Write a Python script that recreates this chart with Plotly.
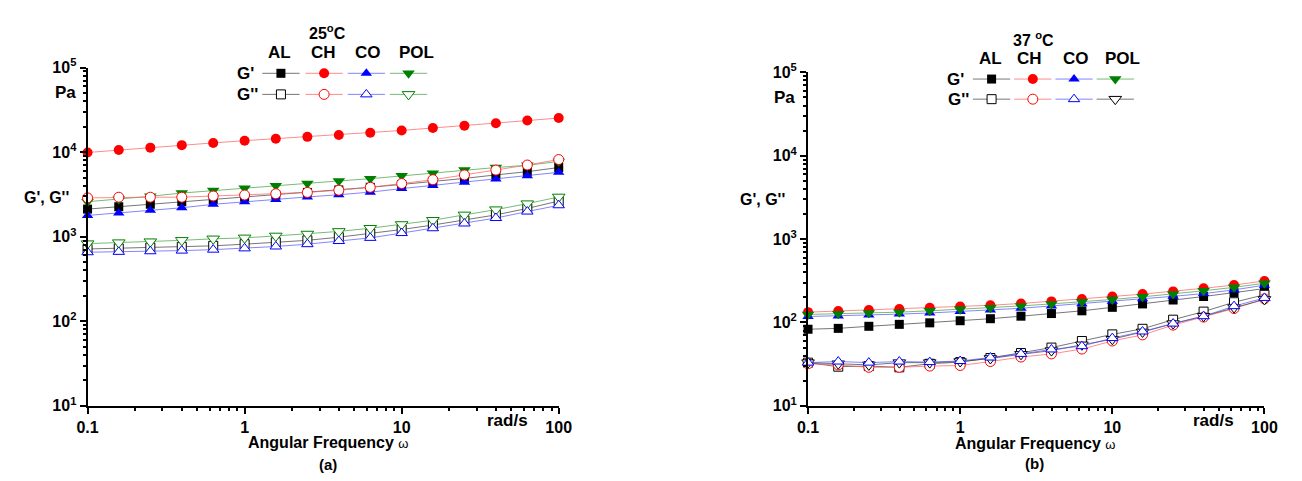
import plotly.graph_objects as go

# ---------------- data ----------------
omega = [0.1, 0.158, 0.251, 0.398, 0.631, 1, 1.58, 2.51, 3.98, 6.31, 10, 15.8, 25.1, 39.8, 63.1, 100]

materials = ["AL", "CH", "CO", "POL"]

# 25 °C
AL_Gp_25 = [2120, 2260, 2420, 2590, 2750, 2930, 3110, 3340, 3570, 3840, 4150, 4480, 4890, 5380, 5870, 6580]
AL_Gpp_25 = [716, 728, 747, 760, 780, 816, 859, 906, 987, 1087, 1216, 1374, 1566, 1812, 2159, 2641]
CH_Gp_25 = [9900, 10600, 11300, 12100, 12850, 13650, 14400, 15150, 15950, 16950, 18050, 19300, 20500, 22000, 23600, 25300]
CH_Gpp_25 = [2880, 2930, 2930, 2930, 3030, 3110, 3220, 3340, 3545, 3835, 4255, 4720, 5380, 6130, 7040, 8170]
CO_Gp_25 = [1785, 1910, 2050, 2198, 2415, 2592, 2753, 2952, 3135, 3365, 3705, 4040, 4403, 4808, 5244, 5773]
CO_Gpp_25 = [655, 662, 673, 685, 703, 728, 766, 816, 889, 969, 1104, 1259, 1433, 1663, 1982, 2354]
POL_Gp_25 = [2592, 2782, 3008, 3280, 3517, 3735, 4009, 4255, 4564, 4850, 5244, 5625, 6134, 6577, 6985, 7755]
POL_Gpp_25 = [828, 851, 873, 906, 944, 969, 1021, 1076, 1155, 1259, 1396, 1566, 1812, 2088, 2459, 2952]

# 37 °C
AL_Gp_37 = [83, 85, 90, 95, 99, 105, 111, 119, 128, 138, 152, 167, 186, 205, 228, 255]
AL_Gpp_37 = [33, 29.5, 30, 29, 32, 33.5, 37.5, 43, 50, 60, 72, 84, 108, 135, 175, 215]
CH_Gp_37 = [133, 137, 141, 145, 150, 155, 161, 169, 179, 191, 205, 219, 236, 257, 281, 315]
CH_Gpp_37 = [32, 31, 29, 29, 30, 30.5, 34, 38.5, 42, 48, 60, 71, 93, 116, 147, 192]
CO_Gp_37 = [118, 120, 123, 126, 130, 135, 141, 148, 158, 168, 180, 192, 206, 222, 246, 280]
CO_Gpp_37 = [33, 34, 33, 34, 33.5, 34.5, 38, 42, 47.5, 52, 65, 78, 97, 119, 157, 197]
POL_Gp_37 = [125, 127, 130, 133, 138, 144, 150, 158, 167, 177, 189, 203, 219, 240, 264, 295]
POL_Gpp_37 = [33, 32, 31, 33, 33, 34, 37, 41.5, 46, 54, 63, 77, 97, 119, 151, 189]

x_tickvals = [0.1, 1, 10, 100]
x_ticktext = ["0.1", "1", "10", "100"]
y_tickvals = [10, 100, 1000, 10000, 100000]
y_ticktext = ["10<sup>1</sup>", "10<sup>2</sup>", "10<sup>3</sup>", "10<sup>4</sup>", "10<sup>5</sup>"]

# ---------------- styles ----------------
W, H = 1302, 481
FONT = "Liberation Sans, Arial, sans-serif"

marker_color = {"AL": "#000000", "CH": "#ff0000", "CO": "#0000ff", "POL": "#008000"}
line_color = {"AL": "rgba(60,60,60,0.7)", "CH": "rgba(255,90,90,0.7)",
              "CO": "rgba(80,80,255,0.7)", "POL": "rgba(60,160,60,0.7)"}
sym_fill = {"AL": "square", "CH": "circle", "CO": "triangle-up", "POL": "triangle-down"}
msize = {"AL": 9, "CH": 10, "CO": 10, "POL": 11}

def px_x(p):
    return p / W

def px_y(p):
    return 1 - p / H

fig = go.Figure()

def add_series(xa, ya, mat, y, filled, mcol=None, lcol=None):
    mc = mcol or marker_color[mat]
    lc = lcol or line_color[mat]
    if filled:
        marker = dict(symbol=sym_fill[mat], size=msize[mat], color=mc, line=dict(width=0))
    else:
        marker = dict(symbol=sym_fill[mat], size=msize[mat], color="white", line=dict(width=1, color=mc))
    fig.add_trace(go.Scatter(x=omega, y=y, mode="lines+markers", xaxis=xa, yaxis=ya,
                             line=dict(color=lc, width=1), marker=marker,
                             cliponaxis=False, showlegend=False, hoverinfo="skip"))

# Left panel
left = {"AL": (AL_Gp_25, AL_Gpp_25), "CH": (CH_Gp_25, CH_Gpp_25),
        "CO": (CO_Gp_25, CO_Gpp_25), "POL": (POL_Gp_25, POL_Gpp_25)}
for m in ["AL", "CH", "CO", "POL"]:
    add_series("x", "y", m, left[m][0], True)
for m in ["AL", "CH", "POL", "CO"]:
    add_series("x", "y", m, left[m][1], False)

# Right panel
right = {"AL": (AL_Gp_37, AL_Gpp_37), "CH": (CH_Gp_37, CH_Gpp_37),
         "CO": (CO_Gp_37, CO_Gpp_37), "POL": (POL_Gp_37, POL_Gpp_37)}
for m in ["AL", "CH", "CO", "POL"]:
    add_series("x2", "y2", m, right[m][0], True)
for m in ["AL", "CH", "POL", "CO"]:
    if m == "POL":
        add_series("x2", "y2", m, right[m][1], False, mcol="#000000", lcol=line_color["AL"])
    else:
        add_series("x2", "y2", m, right[m][1], False)

# ---------------- legend blocks (overlay pixel axis) ----------------
def legend_block(cols_x, row_y, half, right_panel):
    for i, m in enumerate(materials):
        cx = cols_x[i]
        for r, filled in enumerate([True, False]):
            yy = row_y[r]
            mc = marker_color[m]
            lc = line_color[m]
            if right_panel and m == "POL" and not filled:
                mc = "#000000"
                lc = line_color["AL"]
            fig.add_trace(go.Scatter(x=[cx - half, cx + half], y=[yy, yy], mode="lines",
                                     xaxis="x3", yaxis="y3", line=dict(color=lc, width=1),
                                     showlegend=False, hoverinfo="skip"))
            if filled:
                mk = dict(symbol=sym_fill[m], size=msize[m], color=mc, line=dict(width=0))
            else:
                mk = dict(symbol=sym_fill[m], size=msize[m], color="white", line=dict(width=1, color=mc))
            fig.add_trace(go.Scatter(x=[cx], y=[yy], mode="markers", xaxis="x3", yaxis="y3",
                                     marker=mk, showlegend=False, hoverinfo="skip"))

legend_block([275, 319, 362, 405], [65, 87], 19, False)
legend_block([999, 1041, 1083, 1125], [71, 92], 19, True)

# ---------------- axes ----------------
minor_vals = [k * 10 ** e for e in range(-1, 5) for k in range(2, 10)]

def axis_common():
    return dict(type="log", showline=True, linewidth=2, linecolor="black", mirror=False,
                ticks="outside", ticklen=6, tickwidth=2, tickcolor="black",
                showgrid=False, zeroline=False,
                tickfont=dict(family=FONT, size=16, color="black", weight="bold"),
                minor=dict(ticks="outside", ticklen=3, tickwidth=1.5, tickcolor="black",
                           tickvals=minor_vals, showgrid=False))

xa = axis_common(); xa.update(range=[-1, 2], tickvals=x_tickvals, ticktext=x_ticktext,
                              domain=[px_x(78), px_x(558)], anchor="y")
ya = axis_common(); ya.update(range=[1, 5], tickvals=y_tickvals, ticktext=y_ticktext,
                              domain=[px_y(412), px_y(59)], anchor="x")
xb = axis_common(); xb.update(range=[-1, 2], tickvals=x_tickvals, ticktext=x_ticktext,
                              domain=[px_x(812), px_x(1277)], anchor="y2")
yb = axis_common(); yb.update(range=[1, 5], tickvals=y_tickvals, ticktext=y_ticktext,
                              domain=[px_y(412), px_y(64)], anchor="x2")

fig.update_layout(
    width=W, height=H, margin=dict(l=0, r=0, t=0, b=0),
    paper_bgcolor="white", plot_bgcolor="rgba(0,0,0,0)",
    xaxis=xa, yaxis=ya, xaxis2=xb, yaxis2=yb,
    xaxis3=dict(domain=[0, 1], range=[0, W], visible=False, anchor="y3", fixedrange=True),
    yaxis3=dict(domain=[0, 1], range=[H, 0], visible=False, anchor="x3", fixedrange=True),
    font=dict(family=FONT, color="black"),
)

def label(text, x, y, size=16, xanchor="center", bold=True):
    fig.add_annotation(text=text, x=px_x(x), y=px_y(y), xref="paper", yref="paper",
                       showarrow=False, xanchor=xanchor, yanchor="middle",
                       font=dict(family=FONT, size=size, color="black",
                                 weight="bold" if bold else "normal"))

omega_sym = "<span style='font-size:13px;font-weight:normal'>ω</span>"

# left panel texts
label("25<sup>o</sup>C", 322, 22)
for m, xx in zip(materials, [274, 318, 364, 413]):
    label(m, xx, 43, size=17)
label("G'", 239, 65, size=17)
label("G''", 241, 87, size=17)
label("Pa", 56, 85, size=17)
label("G', G''", 36, 195)
label("rad/s", 506, 427, size=17)
label("Angular Frequency " + omega_sym, 323, 450, size=16)
label("(a)", 323, 473, size=15)

# right panel texts
label("37 <sup>o</sup>C", 1042, 29)
for m, xx in zip(materials, [998, 1038, 1085, 1132]):
    label(m, xx, 50, size=17)
label("G'", 962, 71, size=17)
label("G''", 965, 92, size=17)
label("Pa", 788, 90, size=17)
label("G', G''", 766, 197)
label("rad/s", 1225, 427, size=17)
label("Angular Frequency " + omega_sym, 1043, 451, size=16)
label("(b)", 1043, 472, size=15)

fig.write_html("out.html", config={"displayModeBar": False},
               post_script="document.body.style.margin='0px';")
